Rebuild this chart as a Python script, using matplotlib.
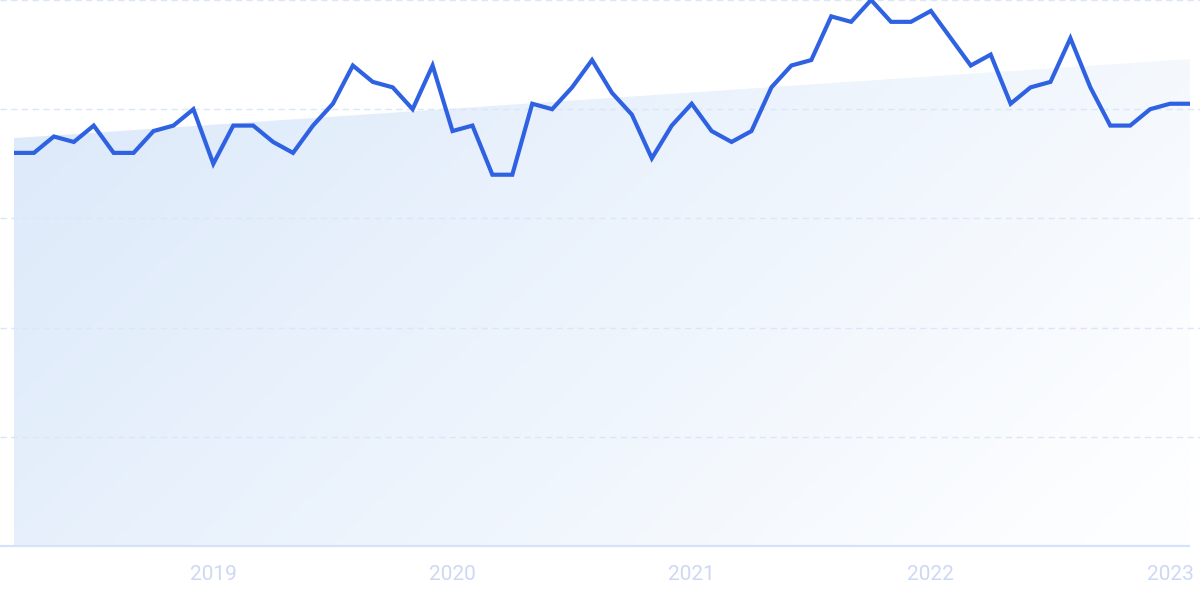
import numpy as np
import matplotlib
matplotlib.use("Agg")
import matplotlib.pyplot as plt
from matplotlib.patches import Polygon

# ---- data (monthly, Mar 2018 .. Feb 2023) ----
start_year, start_month = 2018, 3
values = [72, 72, 75, 74, 77, 72, 72, 76, 77, 80,
          70, 77, 77, 74, 72, 77, 81, 88, 85, 84,
          80, 88, 76, 77, 68, 68, 81, 80, 84, 89,
          83, 79, 71, 77, 81, 76, 74, 76, 84, 88,
          89, 97, 96, 100, 96, 96, 98, 93, 88, 90,
          81, 84, 85, 93, 84, 77, 77, 80, 81, 81]
trend_start, trend_end = 74.7, 89.2
tick_years = [2019, 2020, 2021, 2022, 2023]
y_grid = [20, 40, 60, 80, 100]

n = len(values)
x = np.arange(n)
tick_pos = [(yr - start_year) * 12 + (1 - start_month) for yr in tick_years]

W, H = 1200, 599
fig = plt.figure(figsize=(W / 100, H / 100), dpi=100)
ax = fig.add_axes([0, (H - 546) / H, 1, 546 / H])
px_per = 1176 / (n - 1)
ax.set_xlim(-14 / px_per, (n - 1) + 10 / px_per)
ax.set_ylim(0, 100)
for s in ax.spines.values():
    s.set_visible(False)
ax.set_yticks([])

# gradient trend area
trend = np.linspace(trend_start, trend_end, n)
xl, xr = ax.get_xlim()
gx = np.linspace(0, 1, 400)
gy = np.linspace(0, 1, 200)
GX, GY = np.meshgrid(gx, gy)  # GY=0 at top row (imshow origin upper)
t = np.clip(0.72 * GX + 0.35 * GY, 0, 1)
c0 = np.array([218, 232, 250]) / 255
c1 = np.array([253, 254, 255]) / 255
img = c0[None, None, :] * (1 - t[..., None]) + c1[None, None, :] * t[..., None]
im = ax.imshow(img, extent=[x[0], x[-1], 0, 100], origin="upper",
               aspect="auto", zorder=1, interpolation="bilinear")
poly = Polygon(np.vstack([np.column_stack([x, trend]), [[x[-1], 0], [x[0], 0]]]),
               closed=True, facecolor="none", edgecolor="none")
ax.add_patch(poly)
im.set_clip_path(poly)

# grid lines
for gv in y_grid:
    ax.axhline(gv, color="#dbe6f8", lw=1.0, dashes=(4.5, 3.2), zorder=2,
               clip_on=False)
# baseline
ax.plot([xl, x[-1]], [0, 0], color="#d3e4fa", lw=1.6, zorder=3, clip_on=False,
        solid_capstyle="butt")

# main line
ax.plot(x, values, color="#2f62e2", lw=3.0, zorder=4, clip_on=False,
        solid_joinstyle="miter", solid_capstyle="butt")

ax.set_xticks(tick_pos)
ax.set_xticklabels([str(y) for y in tick_years])
ax.tick_params(axis="x", length=0, pad=14, labelsize=15, labelcolor="#cdd8f4")
for lab in ax.get_xticklabels():
    lab.set_fontfamily("Roboto")

fig.savefig("out.png", dpi=100)
